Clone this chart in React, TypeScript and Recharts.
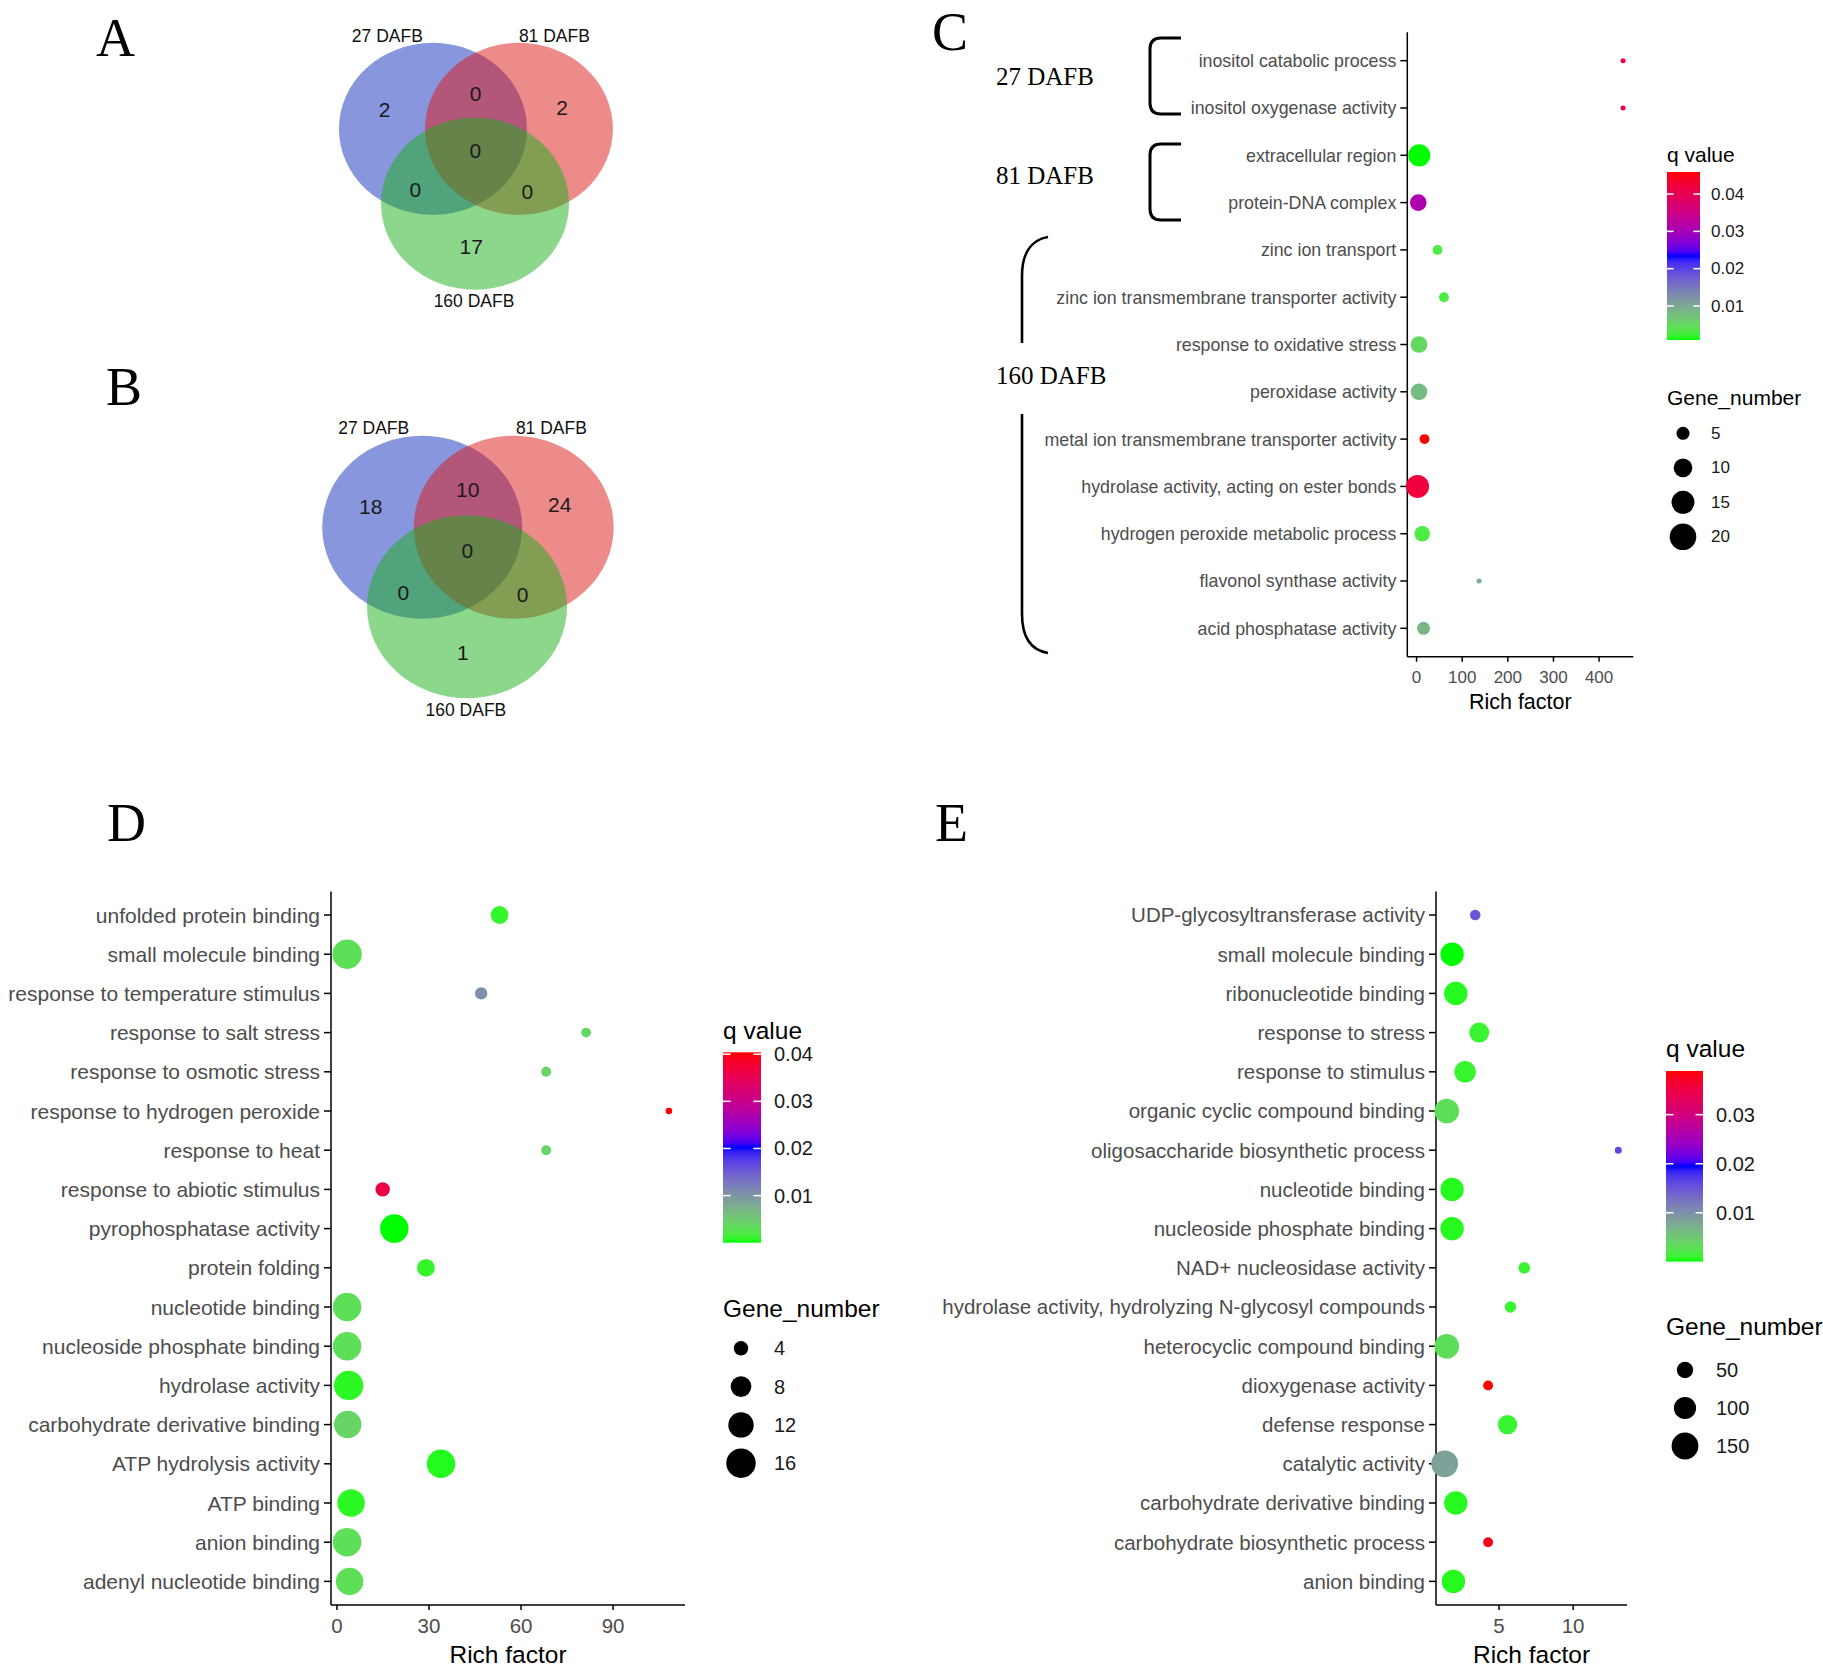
import React from "react";
import { ScatterChart, Scatter, XAxis, YAxis, ZAxis, Cell } from "recharts";

const SANS = "'Liberation Sans', Arial, sans-serif";
const SERIF = "'Liberation Serif', 'Times New Roman', serif";

// ---------- A / B : Venn counts ----------
// region order: 27 only, 27&81, 81 only, all three, 27&160, 81&160, 160 only
const vennSets = ["27 DAFB", "81 DAFB", "160 DAFB"];
const vennCountsA = [2, 0, 2, 0, 0, 0, 17];
const vennCountsB = [18, 10, 24, 0, 0, 0, 1];

// ---------- C ----------
const termsC = [
  "inositol catabolic process",
  "inositol oxygenase activity",
  "extracellular region",
  "protein-DNA complex",
  "zinc ion transport",
  "zinc ion transmembrane transporter activity",
  "response to oxidative stress",
  "peroxidase activity",
  "metal ion transmembrane transporter activity",
  "hydrolase activity, acting on ester bonds",
  "hydrogen peroxide metabolic process",
  "flavonol synthase activity",
  "acid phosphatase activity",
];
const richC = [452.5, 452.5, 5.9, 3.7, 46, 60, 5.3, 5.3, 17.4, 2.2, 12.4, 137, 15.3];
const qC = [0.042, 0.042, 0.0009, 0.031, 0.003, 0.003, 0.005, 0.008, 0.0459, 0.042, 0.003, 0.0095, 0.0085];
const genesC = [1, 1, 14, 8, 3, 3, 8, 8, 3, 15, 7, 1, 5];
const groupsC = ["27 DAFB", "81 DAFB", "160 DAFB"];
const richTicksC = [0, 100, 200, 300, 400];
const qBreaksC = [0.01, 0.02, 0.03, 0.04];
const geneBreaksC = [5, 10, 15, 20];

// ---------- D ----------
const termsD = [
  "unfolded protein binding",
  "small molecule binding",
  "response to temperature stimulus",
  "response to salt stress",
  "response to osmotic stress",
  "response to hydrogen peroxide",
  "response to heat",
  "response to abiotic stimulus",
  "pyrophosphatase activity",
  "protein folding",
  "nucleotide binding",
  "nucleoside phosphate binding",
  "hydrolase activity",
  "carbohydrate derivative binding",
  "ATP hydrolysis activity",
  "ATP binding",
  "anion binding",
  "adenyl nucleotide binding",
];
const richD = [53, 3.3, 47, 81.2, 68.2, 108.2, 68.2, 14.9, 18.7, 29, 3.3, 3.3, 3.8, 3.5, 33.9, 4.6, 3.3, 4.1];
const qD = [0.0008, 0.003, 0.0105, 0.004, 0.004, 0.0404, 0.004, 0.036, 0.00001, 0.0008, 0.003, 0.003, 0.0006, 0.004, 0.0004, 0.0006, 0.003, 0.003];
const genesD = [6, 16, 3, 2, 2, 1, 2, 4, 15, 6, 15, 15, 16, 14, 15, 14, 15, 14];
const richTicksD = [0, 30, 60, 90];
const qBreaksD = [0.01, 0.02, 0.03, 0.04];
const geneBreaksD = [4, 8, 12, 16];

// ---------- E ----------
const termsE = [
  "UDP-glycosyltransferase activity",
  "small molecule binding",
  "ribonucleotide binding",
  "response to stress",
  "response to stimulus",
  "organic cyclic compound binding",
  "oligosaccharide biosynthetic process",
  "nucleotide binding",
  "nucleoside phosphate binding",
  "NAD+ nucleosidase activity",
  "hydrolase activity, hydrolyzing N-glycosyl compounds",
  "heterocyclic compound binding",
  "dioxygenase activity",
  "defense response",
  "catalytic activity",
  "carbohydrate derivative binding",
  "carbohydrate biosynthetic process",
  "anion binding",
];
const richE = [3.39, 1.83, 2.08, 3.66, 2.71, 1.47, 13.05, 1.83, 1.83, 6.7, 5.77, 1.47, 4.26, 5.57, 1.33, 2.08, 4.26, 1.92];
const qE = [0.015, 0.00005, 0.0005, 0.001, 0.001, 0.003, 0.016, 0.0005, 0.0005, 0.001, 0.001, 0.003, 0.0389, 0.001, 0.0085, 0.0005, 0.038, 0.0005];
const genesE = [15, 112, 112, 79, 94, 125, 1, 112, 112, 20, 20, 125, 12, 74, 150, 112, 12, 112];
const richTicksE = [5, 10];
const qBreaksE = [0.01, 0.02, 0.03];
const geneBreaksE = [50, 100, 150];

// ---------- colour ramp (green -> blue -> red, interpolated in Lab like ggplot) ----------
function toLab(rgb: number[]) {
  const lin = (c: number) => {
    c /= 255;
    return c <= 0.04045 ? c / 12.92 : Math.pow((c + 0.055) / 1.055, 2.4);
  };
  const [R, G, B] = rgb.map(lin);
  const X = (0.4124 * R + 0.3576 * G + 0.1805 * B) / 0.95047;
  const Y = 0.2126 * R + 0.7152 * G + 0.0722 * B;
  const Z = (0.0193 * R + 0.1192 * G + 0.9505 * B) / 1.08883;
  const f = (t: number) => (t > 0.008856 ? Math.cbrt(t) : 7.787 * t + 16 / 116);
  const fx = f(X), fy = f(Y), fz = f(Z);
  return [116 * fy - 16, 500 * (fx - fy), 200 * (fy - fz)];
}

function fromLab([L, a, b]: number[]) {
  const fy = (L + 16) / 116;
  const fx = a / 500 + fy;
  const fz = fy - b / 200;
  const inv = (t: number) => (t * t * t > 0.008856 ? t * t * t : (t - 16 / 116) / 7.787);
  const X = inv(fx) * 0.95047, Y = inv(fy), Z = inv(fz) * 1.08883;
  const R = 3.2406 * X - 1.5372 * Y - 0.4986 * Z;
  const G = -0.9689 * X + 1.8758 * Y + 0.0415 * Z;
  const B = 0.0557 * X - 0.204 * Y + 1.057 * Z;
  const gam = (c: number) => {
    const v = c <= 0.0031308 ? 12.92 * c : 1.055 * Math.pow(Math.max(c, 0), 1 / 2.4) - 0.055;
    return Math.round(Math.min(1, Math.max(0, v)) * 255);
  };
  return `rgb(${gam(R)},${gam(G)},${gam(B)})`;
}

const RAMP = [
  [0, 255, 0],
  [0, 0, 255],
  [255, 0, 0],
].map(toLab);

function makeColor(lo: number, hi: number) {
  return (v: number) => {
    const t = Math.min(1, Math.max(0, (v - lo) / (hi - lo))) * 2;
    const i = Math.min(1, Math.floor(t));
    const f = t - i;
    const a = RAMP[i], b = RAMP[i + 1];
    return fromLab([0, 1, 2].map((k) => a[k] + (b[k] - a[k]) * f));
  };
}

// ---------- Venn layout (units of one ellipse radius) ----------
const VENN_FILL = ["#1130BB", "#DB1818", "#1AB01A"];
const VENN_CENTERS = [
  [-0.455, 0.29],
  [0.46, 0.29],
  [-0.007, -0.58],
];
const REGION_ANCHORS = [
  [-0.97, 0.52],
  [0.0, 0.7],
  [0.92, 0.535],
  [-0.004, 0.035],
  [-0.643, -0.42],
  [0.55, -0.444],
  [-0.048, -1.077],
];
const SET_LABEL_ANCHORS = [
  [-0.94, 1.375],
  [0.837, 1.375],
  [-0.018, -1.713],
];

type VennProps = {
  left: number;
  top: number;
  width: number;
  height: number;
  ox: number;
  oy: number;
  unitX: number;
  unitY: number;
  counts: number[];
};

function VennPanel({ left, top, width, height, ox, oy, unitX, unitY, counts }: VennProps) {
  const xDom = [(left - ox) / unitX, (left + width - ox) / unitX];
  const yDom = [(oy - top - height) / unitY, (oy - top) / unitY];
  const sets = vennSets.map((name, i) => ({ name, i, x: VENN_CENTERS[i][0], y: VENN_CENTERS[i][1] }));
  const regions = counts.map((c, i) => ({ label: String(c), x: REGION_ANCHORS[i][0], y: REGION_ANCHORS[i][1] }));
  const names = vennSets.map((name, i) => ({ label: name, x: SET_LABEL_ANCHORS[i][0], y: SET_LABEL_ANCHORS[i][1] }));

  return (
    <div style={{ position: "absolute", left, top }}>
      <ScatterChart width={width} height={height} margin={{ top: 0, right: 0, bottom: 0, left: 0 }}>
        <XAxis type="number" dataKey="x" domain={xDom} hide height={0} />
        <YAxis type="number" dataKey="y" domain={yDom} hide width={0} />
        <Scatter
          data={sets}
          isAnimationActive={false}
          shape={(p: any) => (
            <ellipse cx={p.cx} cy={p.cy} rx={unitX} ry={unitY} fill={VENN_FILL[p.payload.i]} fillOpacity={0.5} />
          )}
        />
        <Scatter
          data={regions}
          isAnimationActive={false}
          shape={(p: any) => (
            <text x={p.cx} y={p.cy} textAnchor="middle" dominantBaseline="central" fontSize={21} fontFamily={SANS} fill="#1a1a1a">
              {p.payload.label}
            </text>
          )}
        />
        <Scatter
          data={names}
          isAnimationActive={false}
          shape={(p: any) => (
            <text x={p.cx} y={p.cy} textAnchor="middle" dominantBaseline="central" fontSize={17.5} fontFamily={SANS} fill="#111">
              {p.payload.label}
            </text>
          )}
        />
      </ScatterChart>
    </div>
  );
}

// ---------- dot plots ----------
type DotProps = {
  left: number;
  top: number;
  width: number;
  height: number;
  mt: number;
  mr: number;
  yw: number;
  xh: number;
  terms: string[];
  rich: number[];
  q: number[];
  genes: number[];
  xTicks: number[];
  zDomain: number[];
  zRange: number[];
  labelSize: number;
  tickSize: number;
  titleSize: number;
  titleOffset: number;
};

function DotPanel(props: DotProps) {
  const { terms, rich, q, genes } = props;
  const table = terms.map((term, i) => ({ term, pos: i, rich: rich[i], q: q[i], genes: genes[i] }));
  const lo = Math.min(...rich);
  const hi = Math.max(...rich);
  const pad = (hi - lo) * 0.05;
  const color = makeColor(Math.min(...q), Math.max(...q));
  const n = terms.length;

  return (
    <div style={{ position: "absolute", left: props.left, top: props.top }}>
      <ScatterChart
        width={props.width}
        height={props.height}
        margin={{ top: props.mt, right: props.mr, bottom: 0, left: 0 }}
      >
        <ZAxis type="number" dataKey="genes" domain={props.zDomain} range={props.zRange} />
        <Scatter data={table} isAnimationActive={false}>
          {table.map((d, i) => (
            <Cell key={i} fill={color(d.q)} />
          ))}
        </Scatter>
        <XAxis
          type="number"
          dataKey="rich"
          domain={[lo - pad, hi + pad]}
          ticks={props.xTicks}
          interval={0}
          height={props.xh}
          tickSize={5}
          tickMargin={9}
          axisLine={{ stroke: "#000", strokeWidth: 1.5 }}
          tickLine={{ stroke: "#000", strokeWidth: 1.5 }}
          tick={(p: any) => (
            <text x={p.x} y={p.y} dy="0.71em" textAnchor="middle" fontSize={props.tickSize} fontFamily={SANS} fill="#4D4D4D">
              {p.payload.value}
            </text>
          )}
          label={{
            value: "Rich factor",
            position: "insideBottom",
            offset: props.titleOffset,
            fontSize: props.titleSize,
            fontFamily: SANS,
            fill: "#000",
          }}
        />
        <YAxis
          type="number"
          dataKey="pos"
          domain={[-0.6, n - 0.4]}
          reversed
          ticks={terms.map((_, i) => i)}
          interval={0}
          width={props.yw}
          tickSize={7}
          tickMargin={4}
          axisLine={{ stroke: "#000", strokeWidth: 1.5 }}
          tickLine={{ stroke: "#000", strokeWidth: 1.5 }}
          tick={(p: any) => (
            <text x={p.x} y={p.y} dy="0.36em" textAnchor="end" fontSize={props.labelSize} fontFamily={SANS} fill="#4D4D4D">
              {terms[p.payload.value]}
            </text>
          )}
        />
      </ScatterChart>
    </div>
  );
}

// ---------- legends ----------
type LegendProps = {
  id: string;
  x: number;
  qTitleY: number;
  barTop: number;
  barBottom: number;
  barW: number;
  labelX: number;
  q: number[];
  qBreaks: number[];
  geneTitleY: number;
  firstY: number;
  step: number;
  geneBreaks: number[];
  circleX: number;
  zDomain: number[];
  zRange: number[];
  titleSize: number;
  labelSize: number;
};

function Legend(L: LegendProps) {
  const lo = Math.min(...L.q);
  const hi = Math.max(...L.q);
  const color = makeColor(lo, hi);
  const yOf = (v: number) => L.barBottom - ((v - lo) / (hi - lo)) * (L.barBottom - L.barTop);
  const stops = Array.from({ length: 41 }, (_, i) => i / 40);
  const area = (v: number) =>
    L.zRange[0] + ((v - L.zDomain[0]) / (L.zDomain[1] - L.zDomain[0])) * (L.zRange[1] - L.zRange[0]);
  return (
    <g fontFamily={SANS}>
      <defs>
        <linearGradient id={L.id} x1="0" y1="0" x2="0" y2="1">
          {stops.map((s) => (
            <stop key={s} offset={s} stopColor={color(hi - s * (hi - lo))} />
          ))}
        </linearGradient>
      </defs>
      <text x={L.x} y={L.qTitleY} dominantBaseline="central" fontSize={L.titleSize} fill="#000">
        q value
      </text>
      <rect x={L.x} y={L.barTop} width={L.barW} height={L.barBottom - L.barTop} fill={`url(#${L.id})`} />
      {L.qBreaks.map((b) => (
        <g key={b}>
          <line x1={L.x} x2={L.x + L.barW * 0.2} y1={yOf(b)} y2={yOf(b)} stroke="#fff" strokeWidth={1.5} />
          <line x1={L.x + L.barW * 0.8} x2={L.x + L.barW} y1={yOf(b)} y2={yOf(b)} stroke="#fff" strokeWidth={1.5} />
          <text x={L.labelX} y={yOf(b)} dominantBaseline="central" fontSize={L.labelSize} fill="#1a1a1a">
            {b.toFixed(2)}
          </text>
        </g>
      ))}
      <text x={L.x} y={L.geneTitleY} dominantBaseline="central" fontSize={L.titleSize} fill="#000">
        Gene_number
      </text>
      {L.geneBreaks.map((b, i) => (
        <g key={b}>
          <circle cx={L.circleX} cy={L.firstY + i * L.step} r={Math.sqrt(area(b) / Math.PI)} fill="#000" />
          <text x={L.labelX} y={L.firstY + i * L.step} dominantBaseline="central" fontSize={L.labelSize} fill="#1a1a1a">
            {b}
          </text>
        </g>
      ))}
    </g>
  );
}

const zC = { domain: [1, 20], range: [20, 556] };
const zD = { domain: [1, 16], range: [34, 679] };
const zE = { domain: [1, 150], range: [38.5, 564.5] };

export default function App() {
  return (
    <div
      style={{
        position: "absolute",
        left: 0,
        top: 0,
        width: 1823,
        height: 1672,
        background: "#fff",
        overflow: "hidden",
        fontFamily: SANS,
      }}
    >
      <VennPanel left={300} top={0} width={360} height={330} ox={475.7} oy={153.8} unitX={94} unitY={86} counts={vennCountsA} />
      <VennPanel left={290} top={380} width={370} height={360} ox={467.7} oy={553.7} unitX={100} unitY={91.5} counts={vennCountsB} />

      <DotPanel
        left={1040}
        top={0}
        width={600}
        height={720}
        mt={32.3}
        mr={6.7}
        yw={367.3}
        xh={63.3}
        terms={termsC}
        rich={richC}
        q={qC}
        genes={genesC}
        xTicks={richTicksC}
        zDomain={zC.domain}
        zRange={zC.range}
        labelSize={17.8}
        tickSize={17}
        titleSize={21.5}
        titleOffset={11.5}
      />
      <DotPanel
        left={0}
        top={860}
        width={700}
        height={812}
        mt={31.5}
        mr={15}
        yw={331}
        xh={67.1}
        terms={termsD}
        rich={richD}
        q={qD}
        genes={genesD}
        xTicks={richTicksD}
        zDomain={zD.domain}
        zRange={zD.range}
        labelSize={21}
        tickSize={20.5}
        titleSize={24.5}
        titleOffset={9.5}
      />
      <DotPanel
        left={930}
        top={860}
        width={710}
        height={812}
        mt={31.5}
        mr={13}
        yw={506}
        xh={67.1}
        terms={termsE}
        rich={richE}
        q={qE}
        genes={genesE}
        xTicks={richTicksE}
        zDomain={zE.domain}
        zRange={zE.range}
        labelSize={20.5}
        tickSize={20.5}
        titleSize={24.5}
        titleOffset={9.5}
      />

      <svg
        width={1823}
        height={1672}
        style={{ position: "absolute", left: 0, top: 0, pointerEvents: "none" }}
      >
        {/* panel letters */}
        <g fontFamily={SERIF} fontSize={54} fill="#000">
          <text x={96} y={56}>A</text>
          <text x={106} y={405}>B</text>
          <text x={932} y={50}>C</text>
          <text x={107} y={841}>D</text>
          <text x={935} y={841}>E</text>
        </g>

        {/* stage brackets for panel C */}
        <g fontFamily={SERIF} fontSize={25} fill="#000">
          <text x={996} y={76.5} dominantBaseline="central">{groupsC[0]}</text>
          <text x={996} y={175} dominantBaseline="central">{groupsC[1]}</text>
          <text x={996} y={375} dominantBaseline="central">{groupsC[2]}</text>
        </g>
        <g fill="none" stroke="#000" strokeWidth={3}>
          <path d="M1181,38 L1161,38 Q1150,38 1150,49 L1150,103 Q1150,114 1161,114 L1181,114" />
          <path d="M1181,144 L1161,144 Q1150,144 1150,155 L1150,209 Q1150,220 1161,220 L1181,220" />
          <path d="M1048,237 C1030,240 1022,255 1022,276 L1022,343" strokeWidth={2.6} />
          <path d="M1022,414 L1022,614 C1022,636 1030,650 1048,653" strokeWidth={2.6} />
        </g>

        <Legend
          id="gradC"
          x={1667}
          qTitleY={154}
          barTop={172}
          barBottom={340}
          barW={33}
          labelX={1711}
          q={qC}
          qBreaks={qBreaksC}
          geneTitleY={397}
          firstY={433.3}
          step={34.5}
          geneBreaks={geneBreaksC}
          circleX={1683}
          zDomain={zC.domain}
          zRange={zC.range}
          titleSize={21}
          labelSize={17}
        />
        <Legend
          id="gradD"
          x={723}
          qTitleY={1030}
          barTop={1052.3}
          barBottom={1242.7}
          barW={38}
          labelX={774}
          q={qD}
          qBreaks={qBreaksD}
          geneTitleY={1308}
          firstY={1348.3}
          step={38.3}
          geneBreaks={geneBreaksD}
          circleX={741}
          zDomain={zD.domain}
          zRange={zD.range}
          titleSize={24.5}
          labelSize={20}
        />
        <Legend
          id="gradE"
          x={1666}
          qTitleY={1048}
          barTop={1071}
          barBottom={1261.6}
          barW={37}
          labelX={1716}
          q={qE}
          qBreaks={qBreaksE}
          geneTitleY={1326}
          firstY={1370}
          step={38}
          geneBreaks={geneBreaksE}
          circleX={1685}
          zDomain={zE.domain}
          zRange={zE.range}
          titleSize={24.5}
          labelSize={20}
        />
      </svg>
    </div>
  );
}
